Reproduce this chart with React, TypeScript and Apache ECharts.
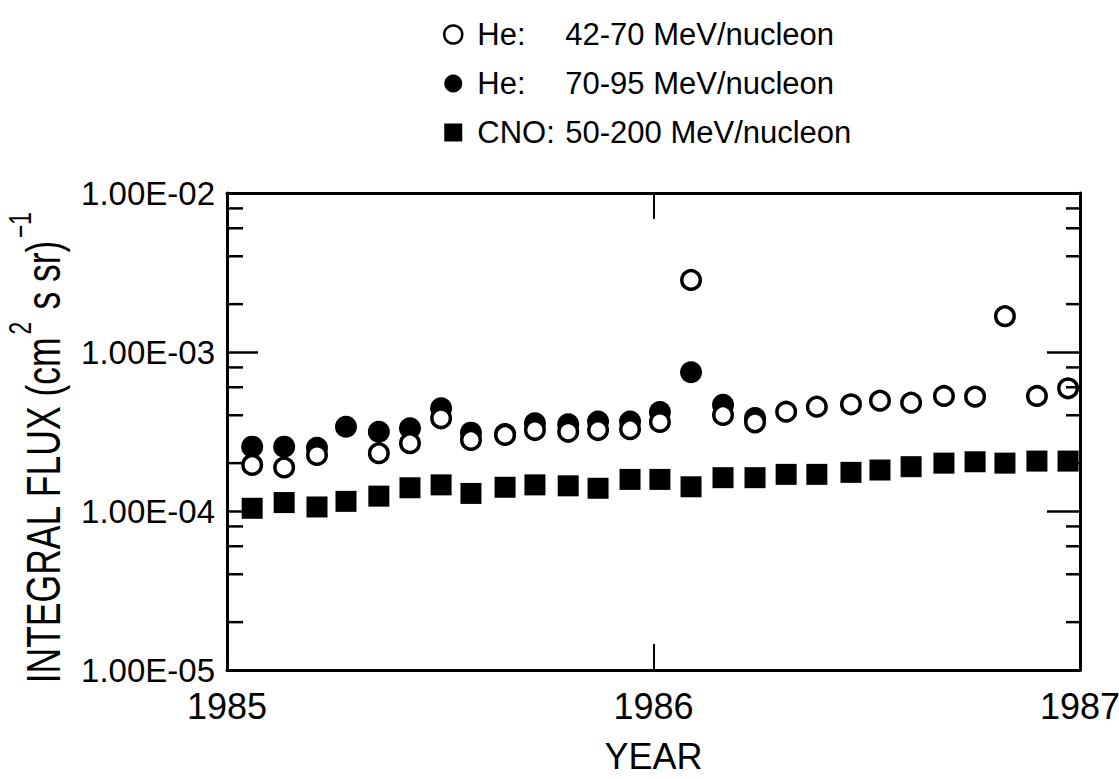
import React, { useEffect, useRef } from "react";
import * as echarts from "echarts";

// Observation epochs (decimal years)
const epochs = [
  1985.059, 1985.134, 1985.211, 1985.279, 1985.356, 1985.429, 1985.502, 1985.572,
  1985.652, 1985.722, 1985.8, 1985.87, 1985.945, 1986.015, 1986.088, 1986.163,
  1986.238, 1986.311, 1986.383, 1986.463, 1986.531, 1986.604, 1986.681, 1986.754,
  1986.824, 1986.899, 1986.972,
];

// He 42-70 MeV/nucleon (open circles)
const heLowFlux = [
  1.95e-4, 1.88e-4, 2.25e-4, null, 2.31e-4, 2.67e-4, 3.83e-4, 2.8e-4, 3.01e-4,
  3.23e-4, 3.15e-4, 3.23e-4, 3.27e-4, 3.63e-4, 2.84e-3, 4.02e-4, 3.61e-4, 4.21e-4,
  4.53e-4, 4.69e-4, 4.94e-4, 4.8e-4, 5.29e-4, 5.24e-4, 1.68e-3, 5.29e-4, 5.91e-4,
];

// He 70-95 MeV/nucleon (filled circles)
const heHighFlux = [
  2.54e-4, 2.54e-4, 2.5e-4, 3.39e-4, 3.15e-4, 3.31e-4, 4.43e-4, 3.11e-4, 3.05e-4,
  3.56e-4, 3.51e-4, 3.65e-4, 3.65e-4, 4.19e-4, 7.45e-4, 4.65e-4, 3.85e-4, null,
  null, null, null, null, null, null, null, null, null,
];

// CNO 50-200 MeV/nucleon (filled squares)
const cnoFlux = [
  1.04e-4, 1.13e-4, 1.06e-4, 1.15e-4, 1.24e-4, 1.4e-4, 1.46e-4, 1.29e-4, 1.41e-4,
  1.46e-4, 1.44e-4, 1.39e-4, 1.58e-4, 1.58e-4, 1.42e-4, 1.62e-4, 1.62e-4, 1.7e-4,
  1.7e-4, 1.75e-4, 1.81e-4, 1.9e-4, 2.0e-4, 2.04e-4, 2.0e-4, 2.06e-4, 2.06e-4,
];

const seriesNames = [
  "He: 42-70 MeV/nucleon",
  "He: 70-95 MeV/nucleon",
  "CNO: 50-200 MeV/nucleon",
];

const yearRange = [1985, 1987];
const fluxRange = [1e-5, 1e-2];
const fluxDecades = [1e-5, 1e-4, 1e-3];
const minorMantissas = [2, 4, 6, 8];

const SANS = "'Liberation Sans', Arial, Helvetica, sans-serif";

function toPairs(vals: (number | null)[]) {
  const out: number[][] = [];
  vals.forEach((v, i) => {
    if (v != null) out.push([epochs[i], v]);
  });
  return out;
}

function fmtFlux(v: number) {
  const e = Math.round(Math.log10(v));
  const sign = e < 0 ? "-" : "+";
  return `1.00E${sign}${String(Math.abs(e)).padStart(2, "0")}`;
}

export default function App() {
  const ref = useRef<HTMLDivElement>(null);

  useEffect(() => {
    if (!ref.current) return;
    const chart = echarts.init(ref.current, undefined, { renderer: "svg" });

    const minorTicks: number[][] = [];
    fluxDecades.forEach((d) =>
      minorMantissas.forEach((m) => minorTicks.push([yearRange[0], m * d]))
    );

    const axisLine = { show: true, lineStyle: { color: "#000", width: 3 } };

    const option: any = {
      animation: false,
      backgroundColor: "#fff",
      textStyle: { fontFamily: SANS, color: "#000" },
      grid: {
        left: 227,
        right: 39,
        top: 193,
        bottom: 109,
        containLabel: false,
        outerBoundsMode: "none",
      },
      legend: {
        orient: "vertical",
        left: 438,
        top: 14,
        itemWidth: 18,
        itemHeight: 18,
        itemGap: 18,
        selectedMode: false,
        data: [
          {
            name: seriesNames[0],
            icon: "circle",
            itemStyle: { color: "#fff", borderColor: "#000", borderWidth: 2.5, opacity: 1 },
          },
          { name: seriesNames[1], icon: "circle", itemStyle: { color: "#000", opacity: 1 } },
          { name: seriesNames[2], icon: "rect", itemStyle: { color: "#000", opacity: 1 } },
        ],
        formatter: (name: string) => {
          const i = name.indexOf(" ");
          return `{a|${name.slice(0, i)}}{b|${name.slice(i + 1)}}`;
        },
        textStyle: {
          color: "#000",
          fontFamily: SANS,
          fontSize: 31,
          rich: {
            a: {
              fontFamily: SANS,
              fontSize: 31,
              color: "#000",
              width: 88,
              padding: [0, 0, 0, 10],
              lineHeight: 36,
            },
            b: { fontFamily: SANS, fontSize: 31, color: "#000", lineHeight: 36 },
          },
        },
      },
      xAxis: [
        {
          type: "value",
          position: "bottom",
          min: yearRange[0],
          max: yearRange[1],
          interval: 1,
          axisLine,
          axisTick: { show: true, inside: true, length: 26, lineStyle: { color: "#000", width: 2 } },
          axisLabel: {
            show: true,
            color: "#000",
            fontFamily: SANS,
            fontSize: 36,
            margin: 18,
            formatter: (v: number) => String(v),
          },
          splitLine: { show: false },
          name: "YEAR",
          nameLocation: "middle",
          nameGap: 68,
          nameTextStyle: { color: "#000", fontFamily: SANS, fontSize: 36 },
        },
        {
          type: "value",
          position: "top",
          min: yearRange[0],
          max: yearRange[1],
          interval: 1,
          axisLine,
          axisTick: { show: true, inside: true, length: 26, lineStyle: { color: "#000", width: 2 } },
          axisLabel: { show: false },
          splitLine: { show: false },
        },
      ],
      yAxis: [
        {
          type: "log",
          logBase: 10,
          position: "left",
          min: fluxRange[0],
          max: fluxRange[1],
          axisLine,
          axisTick: { show: true, inside: true, length: 31, lineStyle: { color: "#000", width: 2.5 } },
          axisLabel: {
            show: true,
            color: "#000",
            fontFamily: SANS,
            fontSize: 33,
            margin: 12,
            formatter: fmtFlux,
          },
          splitLine: { show: false },
        },
        {
          type: "log",
          logBase: 10,
          position: "right",
          min: fluxRange[0],
          max: fluxRange[1],
          axisLine,
          axisTick: { show: true, inside: true, length: 33, lineStyle: { color: "#000", width: 2.5 } },
          axisLabel: { show: false },
          splitLine: { show: false },
        },
      ],
      graphic: [
        {
          type: "text",
          x: 44,
          y: 447,
          rotation: Math.PI / 2,
          scaleX: 0.74,
          style: {
            text: "{t|INTEGRAL FLUX (cm}{s|2}{t| s sr)}{s|−1}",
            align: "center",
            verticalAlign: "middle",
            fill: "#000",
            rich: {
              t: { fontFamily: SANS, fontSize: 48, fill: "#000", lineHeight: 54 },
              s: {
                fontFamily: SANS,
                fontSize: 31,
                fill: "#000",
                padding: [0, 3, 48, 3],
              },
            },
          },
        },
      ],
      series: [
        {
          type: "custom",
          name: "minor ticks",
          silent: true,
          xAxisIndex: 0,
          yAxisIndex: 0,
          z: 5,
          clip: false,
          data: minorTicks,
          renderItem: (params: any, api: any) => {
            const cs = params.coordSys;
            const y = api.coord([api.value(0), api.value(1)])[1];
            return {
              type: "group",
              children: [
                {
                  type: "line",
                  shape: { x1: cs.x, y1: y, x2: cs.x + 16, y2: y },
                  style: { stroke: "#000", lineWidth: 2.5 },
                },
                {
                  type: "line",
                  shape: { x1: cs.x + cs.width - 14, y1: y, x2: cs.x + cs.width, y2: y },
                  style: { stroke: "#000", lineWidth: 2.5 },
                },
              ],
            };
          },
        },
        {
          name: seriesNames[2],
          type: "scatter",
          symbol: "rect",
          symbolSize: 21,
          itemStyle: { color: "#000", opacity: 1 },
          z: 2,
          data: toPairs(cnoFlux),
        },
        {
          name: seriesNames[1],
          type: "scatter",
          symbol: "circle",
          symbolSize: 22,
          itemStyle: { color: "#000", opacity: 1 },
          z: 3,
          data: toPairs(heHighFlux),
        },
        {
          name: seriesNames[0],
          type: "scatter",
          symbol: "circle",
          symbolSize: 18.5,
          itemStyle: { color: "#fff", borderColor: "#000", borderWidth: 3.5, opacity: 1 },
          z: 4,
          data: toPairs(heLowFlux),
        },
      ],
    };

    chart.setOption(option);
    return () => chart.dispose();
  }, []);

  return (
    <div
      ref={ref}
      style={{ position: "fixed", left: 0, top: 0, width: 1119, height: 779, background: "#fff" }}
    />
  );
}
